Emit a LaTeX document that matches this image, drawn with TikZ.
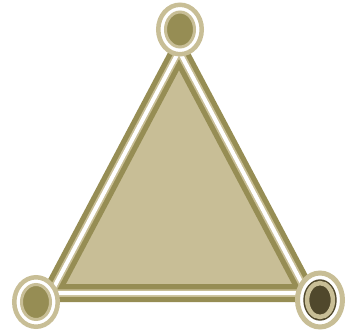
\documentclass[tikz,border=0pt]{standalone}
\usetikzlibrary{shapes.geometric}
\definecolor{khaki}{RGB}{200,190,150}
\definecolor{oliv}{RGB}{150,141,84}
\definecolor{darkol}{RGB}{80,72,44}
\tikzset{
  edgeband/.style={line width=18pt, draw=oliv, line join=miter},
  edgemid/.style={line width=7.5pt, draw=khaki, line join=miter},
  edgegap/.style={line width=4pt, draw=white, line join=miter},
  ring/.style={ellipse, inner sep=0pt, outer sep=0pt, fill=white, draw=khaki, line width=4.5pt, minimum width=43.5pt, minimum height=49.5pt},
  bigring/.style={ring, line width=5pt, minimum width=45pt, minimum height=54pt},
  core/.style={ellipse, inner sep=0pt, outer sep=0pt, fill=oliv, draw=khaki, line width=3pt, minimum width=29pt, minimum height=35pt},
  darkhalo/.style={ellipse, inner sep=0pt, outer sep=0pt, fill=darkol, minimum width=33.4pt, minimum height=41.4pt},
  darkcore/.style={ellipse, inner sep=0pt, outer sep=0pt, fill=darkol, draw=khaki, line width=4.5pt, minimum width=25.9pt, minimum height=33.9pt}
}
\begin{document}
\begin{tikzpicture}[x=1pt,y=-1pt]
\useasboundingbox (0,0) rectangle (358,334);
\coordinate (v1) at (179,51);
\coordinate (v2) at (51,293);
\coordinate (v3) at (307,293);
\fill[khaki] (v1) -- (v2) -- (v3) -- cycle;
\draw[edgeband] (v1) -- (v2) -- (v3) -- cycle;
\draw[edgemid] (v1) -- (v2) -- (v3) -- cycle;
\draw[edgegap] (v1) -- (v2) -- (v3) -- cycle;
\node[ring] (a) at (180,29.5) {};
\node[core] (ai) at (180,29.5) {};
\node[ring] (b) at (36,302) {};
\node[core] (bi) at (36,302) {};
\node[bigring] (c) at (320,300) {};
\node[darkhalo] (ch) at (320,300) {};
\node[darkcore] (ci) at (320,300) {};
\end{tikzpicture}
\end{document}
